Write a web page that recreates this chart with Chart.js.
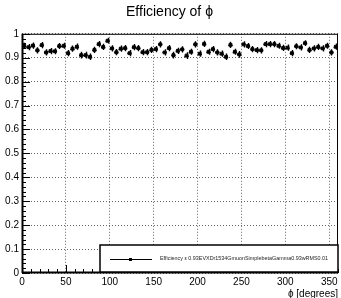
<!DOCTYPE html>
<html>
<head>
<meta charset="utf-8">
<script src="https://cdn.jsdelivr.net/npm/chart.js@4"></script>
<style>
  body { margin: 0; background: #fff; }
  #wrap { width: 341px; height: 298px; }
</style>
</head>
<body>
<div id="wrap"><canvas id="effChart"></canvas></div>
<script>
// bin centres in degrees (5 degree bins)
const phiBins = [
    2.5, 7.5, 12.5, 17.5, 22.5, 27.5, 32.5, 37.5, 42.5, 47.5, 52.5, 57.5,
    62.5, 67.5, 72.5, 77.5, 82.5, 87.5, 92.5, 97.5, 102.5, 107.5, 112.5, 117.5,
    122.5, 127.5, 132.5, 137.5, 142.5, 147.5, 152.5, 157.5, 162.5, 167.5, 172.5, 177.5,
    182.5, 187.5, 192.5, 197.5, 202.5, 207.5, 212.5, 217.5, 222.5, 227.5, 232.5, 237.5,
    242.5, 247.5, 252.5, 257.5, 262.5, 267.5, 272.5, 277.5, 282.5, 287.5, 292.5, 297.5,
    302.5, 307.5, 312.5, 317.5, 322.5, 327.5, 332.5, 337.5, 342.5, 347.5, 352.5, 357.5
];
const efficiency = [
    0.950, 0.944, 0.951, 0.931, 0.953, 0.922, 0.928, 0.927, 0.949, 0.950, 0.919, 0.938,
    0.946, 0.911, 0.911, 0.904, 0.933, 0.957, 0.945, 0.971, 0.939, 0.923, 0.938, 0.940,
    0.919, 0.944, 0.940, 0.923, 0.923, 0.933, 0.936, 0.956, 0.922, 0.940, 0.911, 0.929,
    0.935, 0.909, 0.925, 0.956, 0.917, 0.958, 0.925, 0.936, 0.922, 0.917, 0.904, 0.954,
    0.925, 0.914, 0.956, 0.949, 0.936, 0.932, 0.931, 0.957, 0.957, 0.957, 0.950, 0.941,
    0.942, 0.919, 0.948, 0.943, 0.961, 0.933, 0.939, 0.945, 0.939, 0.950, 0.922, 0.946
];
const effError = [
    0.013, 0.013, 0.013, 0.013, 0.013, 0.013, 0.013, 0.013, 0.013, 0.013, 0.013, 0.013,
    0.013, 0.014, 0.014, 0.014, 0.013, 0.013, 0.013, 0.012, 0.013, 0.013, 0.013, 0.013,
    0.013, 0.013, 0.013, 0.013, 0.013, 0.013, 0.013, 0.013, 0.013, 0.013, 0.014, 0.013,
    0.013, 0.014, 0.013, 0.013, 0.013, 0.013, 0.013, 0.013, 0.013, 0.013, 0.014, 0.013,
    0.013, 0.014, 0.013, 0.013, 0.013, 0.013, 0.013, 0.013, 0.013, 0.013, 0.013, 0.013,
    0.013, 0.013, 0.013, 0.013, 0.012, 0.013, 0.013, 0.013, 0.013, 0.013, 0.013, 0.013
];
const binHalfWidth = 2.5;
const xTicks = [0, 50, 100, 150, 200, 250, 300, 350];
const yTicks = [0, 0.1, 0.2, 0.3, 0.4, 0.5, 0.6, 0.7, 0.8, 0.9, 1];
const legendText = 'Efficiency \u03b5 0.93EVXDr1534GmuonSimplebetaGamma0.93wRMS0.01';

const FONT = 'Liberation Sans, Arial, Helvetica, sans-serif';

// error bars, inner ticks, frame and the legend box
const rootStyle = {
    id: 'rootStyle',
    afterDatasetsDraw(chart) {
        const ctx = chart.ctx;
        const xs = chart.scales.x, ys = chart.scales.y;
        const a = chart.chartArea;
        ctx.save();

        // error bars
        ctx.strokeStyle = '#000';
        ctx.lineWidth = 1.4;
        ctx.beginPath();
        for (let i = 0; i < phiBins.length; i++) {
            const px = xs.getPixelForValue(phiBins[i]);
            const py = ys.getPixelForValue(efficiency[i]);
            const xl = xs.getPixelForValue(phiBins[i] - binHalfWidth);
            const xr = xs.getPixelForValue(phiBins[i] + binHalfWidth);
            const yt = ys.getPixelForValue(efficiency[i] + effError[i]);
            const yb = ys.getPixelForValue(efficiency[i] - effError[i]);
            ctx.moveTo(xl, Math.round(py) + 0.5);
            ctx.lineTo(xr, Math.round(py) + 0.5);
            ctx.moveTo(Math.round(px) + 0.5, yt);
            ctx.lineTo(Math.round(px) + 0.5, yb);
        }
        ctx.stroke();

        // ticks pointing into the frame
        ctx.lineWidth = 1;
        ctx.beginPath();
        for (let v = 0; v <= 360; v += 10) {
            const px = Math.round(xs.getPixelForValue(v)) + 0.5;
            const len = (v % 50 === 0) ? 8 : 4;
            ctx.moveTo(px, a.bottom);
            ctx.lineTo(px, a.bottom - len);
        }
        for (let k = 0; k <= 50; k++) {
            const py = Math.round(ys.getPixelForValue(k / 50)) + 0.5;
            const len = (k % 5 === 0) ? 8 : 4;
            ctx.moveTo(a.left, py);
            ctx.lineTo(a.left + len, py);
        }
        ctx.stroke();

        // frame
        ctx.lineWidth = 1;
        ctx.strokeRect(a.left + 0.5, a.top + 0.5, a.right - a.left - 1, a.bottom - a.top - 1);
        ctx.lineWidth = 2;
        ctx.beginPath();
        ctx.moveTo(a.left, a.bottom - 0.5);
        ctx.lineTo(a.right, a.bottom - 0.5);
        ctx.moveTo(a.left + 0.5, a.top);
        ctx.lineTo(a.left + 0.5, a.bottom);
        ctx.stroke();

        // legend box
        const bx = 100, by = 245, bw = 238, bh = 27;
        ctx.fillStyle = '#fff';
        ctx.fillRect(bx, by, bw, bh);
        ctx.lineWidth = 1.5;
        ctx.strokeRect(bx, by, bw, bh);
        const ly = by + bh / 2;
        ctx.lineWidth = 1.2;
        ctx.beginPath();
        ctx.moveTo(110, Math.round(ly) + 0.5);
        ctx.lineTo(152, Math.round(ly) + 0.5);
        ctx.stroke();
        ctx.fillStyle = '#000';
        ctx.fillRect(129, Math.round(ly) - 1, 3, 3);
        ctx.font = '5.4px ' + FONT;
        ctx.textAlign = 'left';
        ctx.textBaseline = 'middle';
        ctx.fillStyle = '#222';
        ctx.fillText(legendText, 160, ly + 0.5);

        // x axis title
        ctx.font = '10px ' + FONT;
        ctx.textAlign = 'right';
        ctx.textBaseline = 'alphabetic';
        ctx.fillStyle = '#000';
        ctx.fillText('\u03d5 [degrees]', a.right, 297);
        ctx.restore();
    }
};

document.addEventListener('DOMContentLoaded', function() {
    const effCtx = document.getElementById('effChart');
    if (effCtx) {
        const effChart = new Chart(effCtx, {
            type: 'scatter',
            data: {
                datasets: [{
                    label: legendText,
                    data: phiBins.map((x, i) => ({ x: x, y: efficiency[i] })),
                    backgroundColor: '#000',
                    borderColor: '#000',
                    pointStyle: 'rect',
                    pointRadius: 2,
                    pointHoverRadius: 2,
                    showLine: false
                }]
            },
            options: {
                responsive: true,
                maintainAspectRatio: false,
                animation: false,
                layout: {
                    padding: { left: 0, right: 2, top: 0, bottom: 0 }
                },
                plugins: {
                    legend: { display: false },
                    tooltip: { enabled: false },
                    title: {
                        display: true,
                        text: 'Efficiency of \u03d5',
                        color: '#000',
                        font: { family: FONT, size: 14, weight: 'normal' },
                        padding: { top: 4, bottom: 13 }
                    }
                },
                scales: {
                    x: {
                        type: 'linear',
                        min: 0,
                        max: 360,
                        afterBuildTicks: s => { s.ticks = xTicks.map(v => ({ value: v })); },
                        afterFit: s => { s.height = 25; },
                        ticks: {
                            color: '#000',
                            font: { family: FONT, size: 10 },
                            padding: 3,
                            maxRotation: 0,
                            autoSkip: false
                        },
                        grid: { color: '#666', lineWidth: 1, drawTicks: false },
                        border: { display: false, dash: [1, 2] }
                    },
                    y: {
                        type: 'linear',
                        min: 0,
                        max: 1,
                        afterBuildTicks: s => { s.ticks = yTicks.map(v => ({ value: v })); },
                        afterFit: s => { s.width = 22; },
                        ticks: {
                            color: '#000',
                            font: { family: FONT, size: 10 },
                            padding: 3,
                            autoSkip: false,
                            callback: v => String(v)
                        },
                        grid: { color: '#666', lineWidth: 1, drawTicks: false },
                        border: { display: false, dash: [1, 2] }
                    }
                }
            },
            plugins: [rootStyle]
        });
    }
});
</script>
</body>
</html>
